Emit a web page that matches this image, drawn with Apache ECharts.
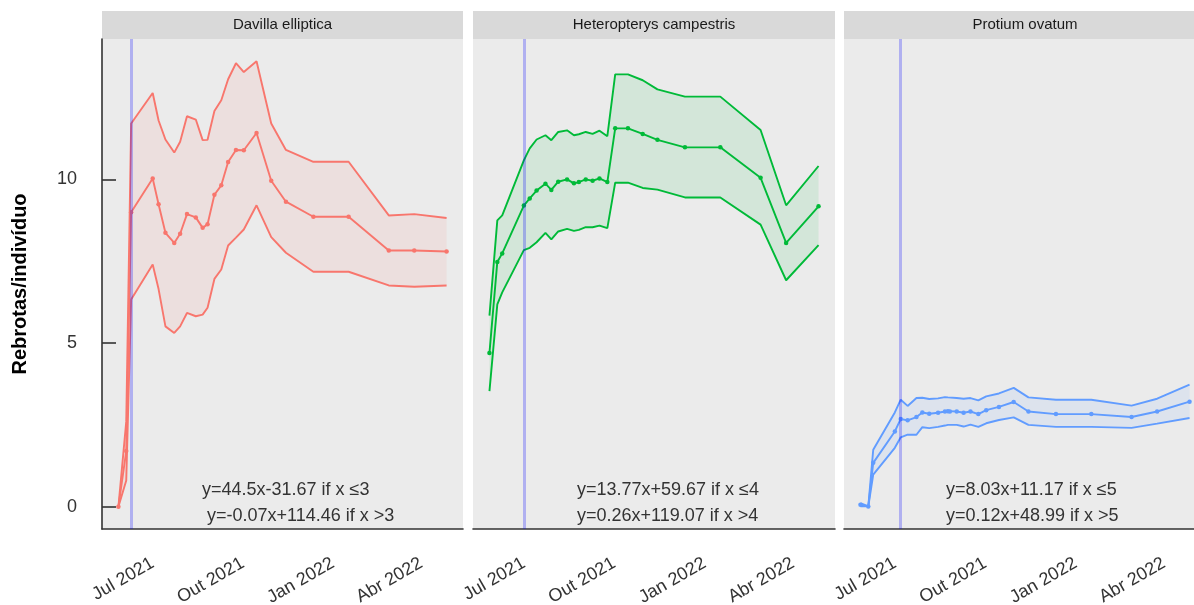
<!DOCTYPE html>
<html>
<head>
<meta charset="utf-8">
<script src="https://cdn.jsdelivr.net/npm/echarts@6/dist/echarts.min.js"></script>
<style>html,body{margin:0;padding:0;background:#fff}#c{width:1194px;height:605px}</style>
</head>
<body>
<div id="c"></div>
<script>
// ---- data ----
const species = ['Davilla elliptica', 'Heteropterys campestris', 'Protium ovatum'];
const colors = ['#F8766D', '#00BA38', '#619CFF'];
const fills = ['rgba(248,118,109,0.1)', 'rgba(0,186,56,0.1)', 'rgba(97,156,255,0.1)'];

const dates = ['2021-05-27','2021-06-04','2021-06-09','2021-07-01','2021-07-07','2021-07-14','2021-07-23','2021-07-29','2021-08-05','2021-08-14','2021-08-21','2021-08-26','2021-09-02','2021-09-09','2021-09-16','2021-09-24','2021-10-02','2021-10-15','2021-10-30','2021-11-14','2021-12-12','2022-01-17','2022-02-27','2022-03-25','2022-04-27'];
const datesProtium = ['2021-05-27','2021-06-04','2021-06-09','2021-07-01','2021-07-07','2021-07-14','2021-07-23','2021-07-29','2021-08-05','2021-08-14','2021-08-21','2021-08-24','2021-08-26','2021-09-02','2021-09-09','2021-09-16','2021-09-24','2021-10-02','2021-10-15','2021-10-30','2021-11-14','2021-12-12','2022-01-17','2022-02-27','2022-03-25','2022-04-27'];

const meanDavilla  = [0.0, 1.7, 9.0, 10.03, 9.24, 8.37, 8.06, 8.34, 8.94, 8.84, 8.52, 8.63, 9.53, 9.82, 10.53, 10.90, 10.89, 11.42, 9.96, 9.32, 8.86, 8.86, 7.83, 7.83, 7.80];
const upperDavilla = [0.0, 2.6, 11.71, 12.64, 11.80, 11.22, 10.82, 11.15, 11.93, 11.83, 11.20, 11.21, 12.09, 12.42, 13.06, 13.55, 13.28, 13.61, 11.71, 10.90, 10.54, 10.54, 8.90, 8.94, 8.82];
const lowerDavilla = [0.0, 0.8, 6.33, 7.40, 6.65, 5.51, 5.31, 5.51, 5.92, 5.82, 5.87, 6.08, 6.96, 7.25, 7.98, 8.22, 8.47, 9.21, 8.24, 7.76, 7.18, 7.18, 6.76, 6.72, 6.76];

const meanHetero  = [4.70, 7.48, 7.74, 9.20, 9.42, 9.66, 9.87, 9.68, 9.93, 10.0, 9.88, 9.92, 10.0, 9.96, 10.03, 9.92, 11.56, 11.56, 11.39, 11.21, 10.98, 10.98, 10.05, 8.06, 9.18];
const upperHetero = [5.84, 8.75, 8.90, 10.58, 10.95, 11.22, 11.35, 11.20, 11.45, 11.50, 11.35, 11.38, 11.45, 11.39, 11.49, 11.32, 13.21, 13.21, 13.03, 12.75, 12.53, 12.53, 11.51, 9.21, 10.41];
const lowerHetero = [3.53, 6.18, 6.55, 7.84, 7.91, 8.08, 8.37, 8.17, 8.41, 8.49, 8.43, 8.46, 8.54, 8.54, 8.59, 8.51, 9.90, 9.90, 9.74, 9.69, 9.45, 9.45, 8.62, 6.92, 7.99];

const meanProtium  = [0.06, 0.01, 1.34, 2.30, 2.68, 2.64, 2.74, 2.88, 2.84, 2.87, 2.91, 2.92, 2.91, 2.91, 2.87, 2.91, 2.83, 2.95, 3.05, 3.20, 2.91, 2.83, 2.83, 2.74, 2.91, 3.21];
const upperProtium = [0.11, 0.01, 1.74, 2.88, 3.27, 3.08, 3.32, 3.33, 3.29, 3.31, 3.35, 3.34, 3.33, 3.32, 3.30, 3.32, 3.25, 3.37, 3.46, 3.63, 3.34, 3.27, 3.27, 3.09, 3.30, 3.73];
const lowerProtium = [0.01, 0.01, 0.98, 1.80, 2.12, 2.20, 2.20, 2.43, 2.40, 2.44, 2.48, 2.50, 2.49, 2.50, 2.45, 2.51, 2.44, 2.55, 2.65, 2.73, 2.50, 2.44, 2.44, 2.41, 2.54, 2.71];

const breakIndex = [2, 3, 4]; // breakpoint measurement (0-based) for each species
const equations = [
  ['y=44.5x-31.67 if x \u22643', 'y=-0.07x+114.46 if x >3'],
  ['y=13.77x+59.67 if x \u22644', 'y=0.26x+119.07 if x >4'],
  ['y=8.03x+11.17 if x \u22645', 'y=0.12x+48.99 if x >5']
];
const xTickDates = ['2021-07-01', '2021-10-01', '2022-01-01', '2022-04-01'];
const yTicks = [0, 5, 10];
const monthNames = ['Jan','Fev','Mar','Abr','Mai','Jun','Jul','Ago','Set','Out','Nov','Dez'];
const yTitle = 'Rebrotas/indiv\u00edduo';

// ---- build ----
function ts(s){ const p = s.split('-').map(Number); return Date.UTC(p[0], p[1]-1, p[2]); }
const panels = [
  {d: dates, m: meanDavilla, u: upperDavilla, l: lowerDavilla},
  {d: dates, m: meanHetero, u: upperHetero, l: lowerHetero},
  {d: datesProtium, m: meanProtium, u: upperProtium, l: lowerProtium}
];
let allT = [], allY = [];
panels.forEach(p => { p.d.forEach(s => allT.push(ts(s))); allY = allY.concat(p.u, p.l); });
const tMin = Math.min(...allT), tMax = Math.max(...allT), tR = tMax - tMin;
const yMin0 = Math.min(...allY), yMax0 = Math.max(...allY), yR = yMax0 - yMin0;
const xMin = tMin - 0.05 * tR, xMax = tMax + 0.05 * tR;
const yMin = yMin0 - 0.05 * yR, yMax = yMax0 + 0.05 * yR;

const FONT = 'Liberation Sans, Arial, Helvetica, sans-serif';
const gridLeft = [102, 473, 844];
const gridW = [361, 362, 362];
const TOP = 39, H = 490;
const LW = 1.9;

const grids = [], xAxes = [], yAxes = [], series = [], graphics = [];
panels.forEach((p, i) => {
  grids.push({left: gridLeft[i], top: TOP, width: gridW[i], height: H, show: true,
    backgroundColor: '#EBEBEB', borderWidth: 0, containLabel: false, outerBoundsMode: 'none'});
  xAxes.push({type: 'value', gridIndex: i, min: xMin, max: xMax,
    splitLine: {show: false},
    axisLine: {show: true, onZero: false, lineStyle: {color: '#333', width: 1.6}},
    axisTick: {show: false},
    axisLabel: {show: true, rotate: 30, margin: 33, fontSize: 18, color: '#333', fontFamily: FONT,
      customValues: xTickDates.map(ts),
      formatter: v => { const d = new Date(v); return monthNames[d.getUTCMonth()] + ' ' + d.getUTCFullYear(); }}
  });
  yAxes.push({type: 'value', gridIndex: i, min: yMin, max: yMax,
    splitLine: {show: false},
    axisLine: {show: i === 0, lineStyle: {color: '#333', width: 1.6}},
    axisTick: {show: i === 0, inside: true, length: 14, lineStyle: {color: '#333', width: 1.6}, customValues: yTicks},
    axisLabel: {show: i === 0, margin: 25, fontSize: 18, color: '#333', fontFamily: FONT, customValues: yTicks},
    name: i === 0 ? yTitle : '', nameLocation: 'middle', nameGap: 72, nameRotate: 90,
    nameTextStyle: {fontSize: 20, fontWeight: 'bold', color: '#000', fontFamily: FONT}
  });
  const T = p.d.map(ts);
  const pair = arr => arr.map((v, k) => [T[k], v]);
  const base = {xAxisIndex: i, yAxisIndex: i, silent: true, animation: false};
  // confidence band (polygon between lower and upper)
  series.push(Object.assign({}, base, {type: 'custom', z: 1, clip: true,
    data: pair(p.m),
    renderItem: (params, api) => {
      if (params.dataIndex !== 0) return null;
      const pts = [];
      for (let k = 0; k < T.length; k++) pts.push(api.coord([T[k], p.u[k]]));
      for (let k = T.length - 1; k >= 0; k--) pts.push(api.coord([T[k], p.l[k]]));
      return {type: 'polygon', shape: {points: pts}, style: {fill: fills[i]}};
    }}));
  series.push(Object.assign({}, base, {type: 'line', data: pair(p.u), symbol: 'none', lineStyle: {color: colors[i], width: LW}, z: 2}));
  series.push(Object.assign({}, base, {type: 'line', data: pair(p.l), symbol: 'none', lineStyle: {color: colors[i], width: LW}, z: 2}));
  series.push(Object.assign({}, base, {type: 'line', data: pair(p.m), symbol: 'circle', symbolSize: 4.5, showAllSymbol: true,
    itemStyle: {color: colors[i]}, lineStyle: {color: colors[i], width: LW}, z: 3}));
  series.push(Object.assign({}, base, {type: 'line', data: [], z: 5,
    markLine: {silent: true, symbol: ['none', 'none'], label: {show: false}, animation: false,
      lineStyle: {color: 'rgba(0,0,255,0.25)', width: 3, type: 'solid'},
      data: [{xAxis: T[breakIndex[i]]}]}}));
  // strip
  graphics.push({type: 'rect', left: gridLeft[i], top: 11, shape: {width: gridW[i], height: 28}, style: {fill: '#D9D9D9'}, silent: true});
  graphics.push({type: 'text', x: gridLeft[i] + gridW[i] / 2, y: 25, silent: true,
    style: {text: species[i], fontSize: 15, fontFamily: FONT, fill: '#1A1A1A', align: 'center', verticalAlign: 'middle'}});
});
// equation annotations
const eqX = [[202, 207], [577, 577], [946, 946]];
const eqY = [490, 516];
equations.forEach((lines, i) => lines.forEach((t, j) => {
  graphics.push({type: 'text', x: eqX[i][j], y: eqY[j], silent: true, z: 10,
    style: {text: t, fontSize: 18, fontFamily: FONT, fill: '#333', align: 'left', verticalAlign: 'middle'}});
}));

const chart = echarts.init(document.getElementById('c'), null, {renderer: 'canvas'});
chart.setOption({animation: false, backgroundColor: '#fff', grid: grids, xAxis: xAxes, yAxis: yAxes, series: series, graphic: graphics});
</script>
</body>
</html>
